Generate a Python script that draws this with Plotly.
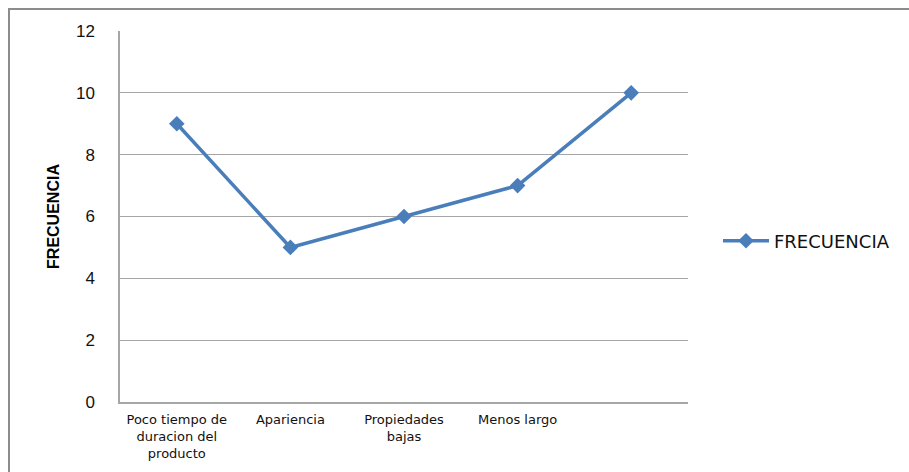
import plotly.graph_objects as go

categories = ["Poco tiempo de<br>duracion del<br>producto", "Apariencia", "Propiedades<br>bajas", "Menos largo", ""]
frecuencia = [9, 5, 6, 7, 10]
y_ticks = [0, 2, 4, 6, 8, 10, 12]

x_pos = list(range(len(categories)))

fig = go.Figure()
fig.add_trace(go.Scatter(
    x=x_pos, y=frecuencia, mode="lines+markers", name="FRECUENCIA",
    line=dict(color="#4A7EBB", width=3.5),
    marker=dict(symbol="diamond", size=12, color="#4A7EBB"),
))

L, R, T, B = 120, 221, 31, 70
W, H = 909, 472
pw, ph = W - L - R, H - T - B

def px_x(p):
    return (p - L) / pw

def px_y(p):
    return (H - B - p) / ph

fig.add_shape(type="rect", xref="paper", yref="paper",
              x0=px_x(9), x1=px_x(915), y0=px_y(9), y1=px_y(480),
              line=dict(color="#8c8c8c", width=2), layer="below")

fig.update_layout(
    width=W, height=H,
    margin=dict(l=L, r=R, t=T, b=B, pad=0),
    paper_bgcolor="white", plot_bgcolor="white",
    font=dict(family="Liberation Sans, Arial, sans-serif", color="#000000"),
    showlegend=True,
    legend=dict(x=px_x(718), y=px_y(241), xanchor="left", yanchor="middle",
                font=dict(size=18, color="#111111", family="DejaVu Sans"),
                bgcolor="rgba(0,0,0,0)", itemwidth=46),
    xaxis=dict(
        range=[-0.5, 4.5], tickmode="array", tickvals=x_pos, ticktext=categories,
        showgrid=False, zeroline=False, showline=True, linecolor="#a6a6a6", linewidth=1.5,
        ticks="", ticklabelstandoff=5,
        tickfont=dict(size=13, color="#111111", family="DejaVu Sans"), fixedrange=True,
    ),
    yaxis=dict(
        range=[0, 12], tickmode="array", tickvals=y_ticks,
        showgrid=True, gridcolor="#a6a6a6", gridwidth=1,
        zeroline=False, showline=True, linecolor="#a6a6a6", linewidth=1.5,
        ticks="", ticklabelstandoff=20, tickfont=dict(size=17, color="#111111"),
        title=dict(text="<b>FRECUENCIA</b>", font=dict(size=16, color="#000000"), standoff=12),
        fixedrange=True,
    ),
)

fig.write_html("out.html")
